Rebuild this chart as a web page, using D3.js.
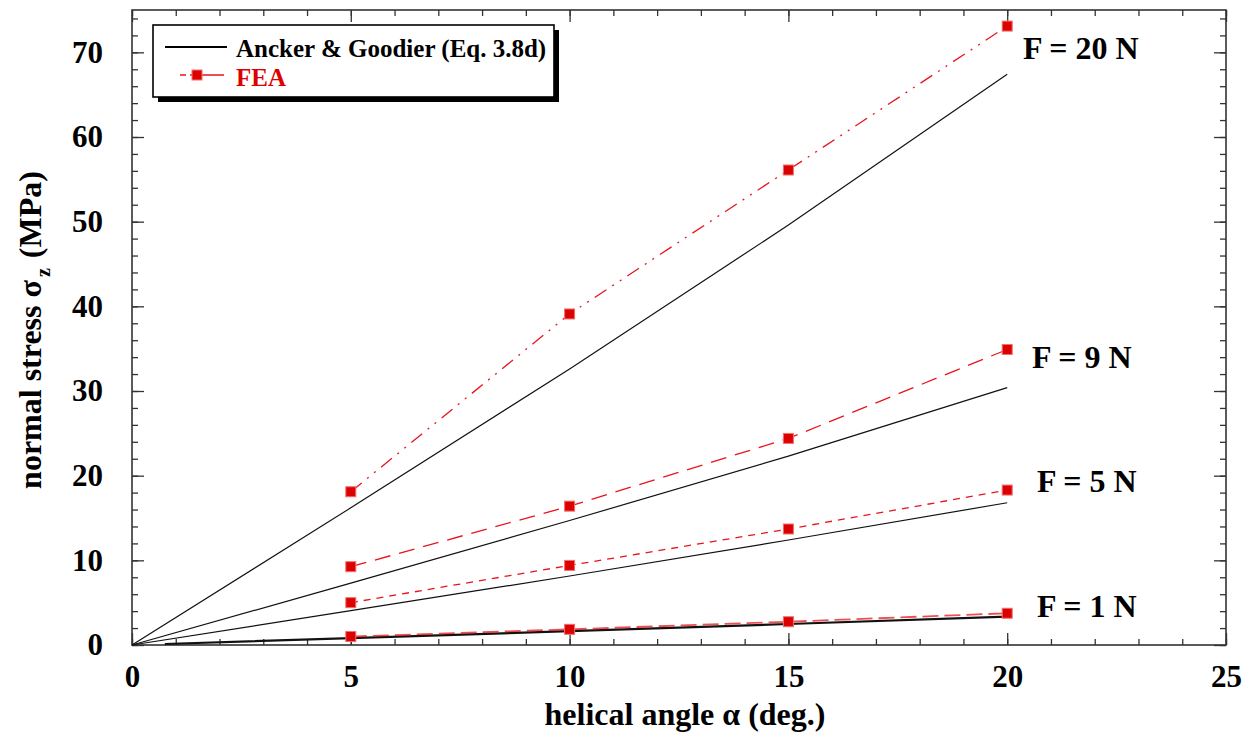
<!DOCTYPE html>
<html><head><meta charset="utf-8">
<script src="https://cdn.jsdelivr.net/npm/d3@7"></script>
<style>
html,body{margin:0;padding:0;background:#fff;}
text{font-family:"Liberation Serif","Times New Roman","DejaVu Serif",serif;font-weight:bold;}
</style></head>
<body><svg id="c" width="1255" height="738"></svg>
<script>
// ---- data ----
const feaAlpha = [5, 10, 15, 20];
const feaF20 = [18.1, 39.1, 56.1, 73.1];
const feaF9  = [9.25, 16.4, 24.4, 34.9];
const feaF5  = [5.0, 9.4, 13.7, 18.3];
const feaF1  = [1.0, 1.85, 2.75, 3.75];
const agAlpha   = [0, 5, 10, 15, 20];
const agF20 = [0, 16.2, 32.6, 49.6, 67.4];
const agF9  = [0, 7.3, 14.7, 22.3, 30.4];
const agF5  = [0, 4.05, 8.15, 12.4, 16.8];
const agF1Alpha = [0.75, 5, 10, 15, 20];
const agF1  = [0.12, 0.81, 1.63, 2.48, 3.34];
const xTicks = [0, 5, 10, 15, 20, 25];
const yTicks = [0, 10, 20, 30, 40, 50, 60, 70];
const forceLabels = ["F = 20 N", "F = 9 N", "F = 5 N", "F = 1 N"];

const svg = d3.select("#c");
const L = 132, R = 1226, T = 10, B = 645;
const x = d3.scaleLinear().domain([0, 25]).range([L, R]);
const y = d3.scaleLinear().domain([0, 75]).range([B, T]);
const axisColor = "#333";

// ---- axes ----
function styleAxis(g){ g.select(".domain").remove(); g.selectAll("line").attr("stroke", axisColor).attr("stroke-width", 1.3); }
const xMinor = d3.range(0, 26, 1), yMinor = d3.range(0, 76, 2);
svg.append("g").attr("transform", `translate(0,${B})`).call(d3.axisBottom(x).tickValues(xMinor).tickSize(-6).tickFormat("")).call(styleAxis);
svg.append("g").attr("transform", `translate(0,${T})`).call(d3.axisTop(x).tickValues(xMinor).tickSize(-6).tickFormat("")).call(styleAxis);
svg.append("g").attr("transform", `translate(${L},0)`).call(d3.axisLeft(y).tickValues(yMinor).tickSize(-6).tickFormat("")).call(styleAxis);
svg.append("g").attr("transform", `translate(${R},0)`).call(d3.axisRight(y).tickValues(yMinor).tickSize(-6).tickFormat("")).call(styleAxis);

const gxb = svg.append("g").attr("transform", `translate(0,${B})`).call(d3.axisBottom(x).tickValues(xTicks).tickSize(-12).tickPadding(20).tickFormat(d3.format("d"))).call(styleAxis);
svg.append("g").attr("transform", `translate(0,${T})`).call(d3.axisTop(x).tickValues(xTicks).tickSize(-12).tickFormat("")).call(styleAxis);
const gyl = svg.append("g").attr("transform", `translate(${L},0)`).call(d3.axisLeft(y).tickValues(yTicks).tickSize(-12).tickPadding(29).tickFormat(d3.format("d"))).call(styleAxis);
svg.append("g").attr("transform", `translate(${R},0)`).call(d3.axisRight(y).tickValues(yTicks).tickSize(-12).tickFormat("")).call(styleAxis);
gxb.selectAll("text").attr("font-size", 31).attr("fill", "#000");
gyl.selectAll("text").attr("font-size", 31).attr("fill", "#000");

svg.append("rect").attr("x", L).attr("y", T).attr("width", R - L).attr("height", B - T)
  .attr("fill", "none").attr("stroke", axisColor).attr("stroke-width", 1.6);

// ---- lines ----
const line = d3.line().x(d => x(d[0])).y(d => y(d[1]));
const red = "#e8141c";
const agSeries = [
  {a: agAlpha, v: agF20, w: 1.2},
  {a: agAlpha, v: agF9, w: 1.2},
  {a: agAlpha, v: agF5, w: 1.2},
  {a: agF1Alpha, v: agF1, w: 2.2}
];
agSeries.forEach(s => {
  svg.append("path").datum(s.a.map((a, i) => [a, s.v[i]])).attr("d", line)
    .attr("fill", "none").attr("stroke", "#111").attr("stroke-width", s.w);
});
const feaSeries = [
  {v: feaF20, dash: "14,7,2,7,2,7"},
  {v: feaF9, dash: "16,9"},
  {v: feaF5, dash: "7,6"},
  {v: feaF1, dash: "16,6"}
];
feaSeries.forEach((s, k) => {
  const pts = feaAlpha.map((a, i) => [a, s.v[i]]);
  svg.append("path").datum(pts).attr("d", line)
    .attr("fill", "none").attr("stroke", red).attr("stroke-width", k === 3 ? 1.8 : 1.3)
    .attr("stroke-dasharray", s.dash).attr("opacity", k === 3 ? 0.75 : 1);
  svg.selectAll(null).data(pts).enter().append("rect")
    .attr("x", d => x(d[0]) - 5).attr("y", d => y(d[1]) - 5)
    .attr("width", 10).attr("height", 10)
    .attr("fill", "#dd0000").attr("stroke", "#f07070").attr("stroke-width", 1);
});

// ---- force labels ----
const labelPos = [[1023, 59], [1032, 368], [1037, 492], [1037, 617]];
forceLabels.forEach((t, i) => {
  svg.append("text").attr("x", labelPos[i][0]).attr("y", labelPos[i][1])
    .attr("font-size", 32).attr("fill", "#000").text(t);
});

// ---- axis titles ----
const xt = svg.append("text").attr("x", 685).attr("y", 725).attr("text-anchor", "middle")
  .attr("font-size", 32).attr("fill", "#000");
xt.append("tspan").text("helical angle \u03b1");
xt.append("tspan").attr("dx", 8).text("(deg.)");
const yt = svg.append("text").attr("transform", "translate(41,330) rotate(-90)")
  .attr("text-anchor", "middle").attr("font-size", 32).attr("fill", "#000");
yt.append("tspan").text("normal stress \u03c3");
yt.append("tspan").attr("dx", 3).attr("dy", 9).attr("font-size", 20).text("z");
yt.append("tspan").attr("dx", 10).attr("dy", -9).text("(MPa)");

// ---- legend ----
const lg = svg.append("g");
lg.append("rect").attr("x", 158).attr("y", 30).attr("width", 401).attr("height", 72).attr("fill", "#000");
lg.append("rect").attr("x", 153).attr("y", 25).attr("width", 401).attr("height", 72)
  .attr("fill", "#fff").attr("stroke", "#000").attr("stroke-width", 1.6);
lg.append("line").attr("x1", 165).attr("x2", 227).attr("y1", 47).attr("y2", 47).attr("stroke", "#000").attr("stroke-width", 2);
lg.append("text").attr("x", 236).attr("y", 57).attr("font-size", 25).attr("fill", "#000").text("Ancker & Goodier (Eq. 3.8d)");
lg.append("line").attr("x1", 180).attr("x2", 224).attr("y1", 75).attr("y2", 75).attr("stroke", red).attr("stroke-width", 1.3).attr("stroke-dasharray", "6,4,60");
lg.append("rect").attr("x", 192).attr("y", 70).attr("width", 10).attr("height", 10).attr("fill", "#dd0000").attr("stroke", "#f07070");
lg.append("text").attr("x", 236).attr("y", 86).attr("font-size", 25).attr("fill", "#dd0000").text("FEA");
</script></body></html>
